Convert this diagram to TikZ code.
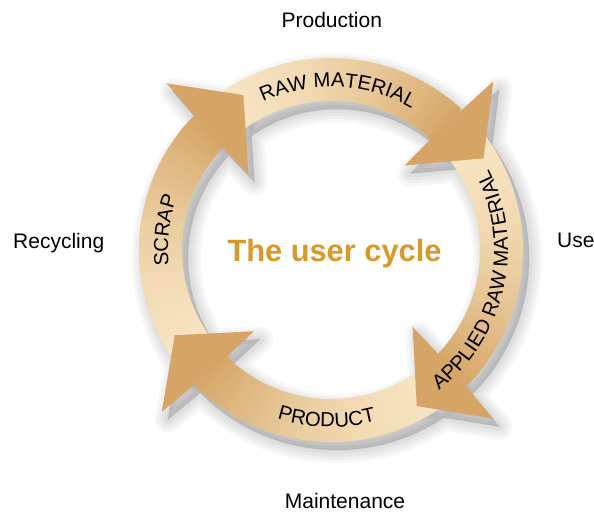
\documentclass[tikz,border=0pt]{standalone}
\usepackage{fontspec}
\newfontfamily\helv{Liberation Sans}
\usetikzlibrary{decorations.text}
\definecolor{creamL}{RGB}{247,228,194}
\definecolor{tanD}{RGB}{214,166,103}
\definecolor{headC}{RGB}{213,164,102}
\definecolor{titleC}{RGB}{219,152,42}
\newcommand\ringband[2]{%
  \foreach \k in {0,...,47}{%
    \pgfmathsetmacro\angA{#1+(#2-(#1))*\k/48}%
    \pgfmathsetmacro\angB{#1+(#2-(#1))*(\k+1.2)/48}%
    \pgfmathsetmacro\pct{int(100*((\k+0.5)/48)^1.8)}%
    \fill[tanD!\pct!creamL] (\angA:149pt) arc[start angle=\angA, end angle=\angB, radius=149pt]
      -- (\angB:192pt) arc[start angle=\angB, end angle=\angA, radius=192pt] -- cycle;
  }}
\tikzset{
  headpath/.style={insert path={({#1-0.55}:192pt) -- ({#1-1.4}:234pt) -- ({#1-16.5}:178pt) -- ({#1+1.45}:112pt) -- ({#1+0.55}:149pt) -- cycle}},
  ringpath/.style={insert path={(0:192pt) arc[start angle=0,end angle=-360,radius=192pt] -- cycle (0:149pt) arc[start angle=0,end angle=360,radius=149pt] -- cycle}},
  lbl/.style={font=\helv\fontsize{21}{24}\selectfont, inner sep=0pt, text=black},
  bandtext/.style={decorate, decoration={text along path, text align=center, text={|\helv\fontsize{20.3}{21}\selectfont|#1}}},
}
\begin{document}
\begin{tikzpicture}
\fill[white] (0pt,0pt) rectangle (594pt,514pt);
\useasboundingbox (0pt,0pt) rectangle (594pt,514pt);
% soft shadow
\begin{scope}[shift={(337pt,256pt)}]
  \foreach \w in {2,8,14,20,26}{%
    \path[fill=black, fill opacity=0.03, draw=black, draw opacity=0.03, line width=\w pt, line join=round,
      ringpath, headpath=136, headpath=47.5, headpath=-44.7, headpath=225.1];
  }
\end{scope}
\begin{scope}[shift={(331pt,264pt)}]
  \ringband{221}{136}
  \ringband{131}{47.5}
  \ringband{43}{-44.7}
  \ringband{-49}{-134.9}
  \fill[headC, headpath=136];
  \fill[headC, headpath=47.5];
  \fill[headC, headpath=-44.7];
  \fill[headC, headpath=225.1];
  \path[bandtext=SCRAP] (200:163pt) arc[start angle=200, end angle=146.6, radius=163pt];
  \path[bandtext={RAW MATERIAL}] (127.5:163pt) arc[start angle=127.5, end angle=47.5, radius=163pt];
  \path[bandtext={APPLIED RAW MATERIAL}] (-62.6:177pt) arc[start angle=-62.6, end angle=37.4, radius=177pt];
  \path[bandtext=PRODUCT] (-121.5:177pt) arc[start angle=-121.5, end angle=-61.5, radius=177pt];
\end{scope}
\node[font=\helv\bfseries\fontsize{30.8}{34}\selectfont, text=titleC, anchor=base, inner sep=0pt] (title) at (334.5pt,252pt) {The user cycle};
\node[lbl, anchor=base] (prod) at (331.8pt,486pt) {Production};
\node[lbl, anchor=base west] (rec) at (13pt,265pt) {Recycling};
\node[lbl, anchor=base west] (use) at (557pt,266pt) {Use};
\node[lbl, anchor=base] (mnt) at (345pt,6pt) {Maintenance};
\end{tikzpicture}
\end{document}
